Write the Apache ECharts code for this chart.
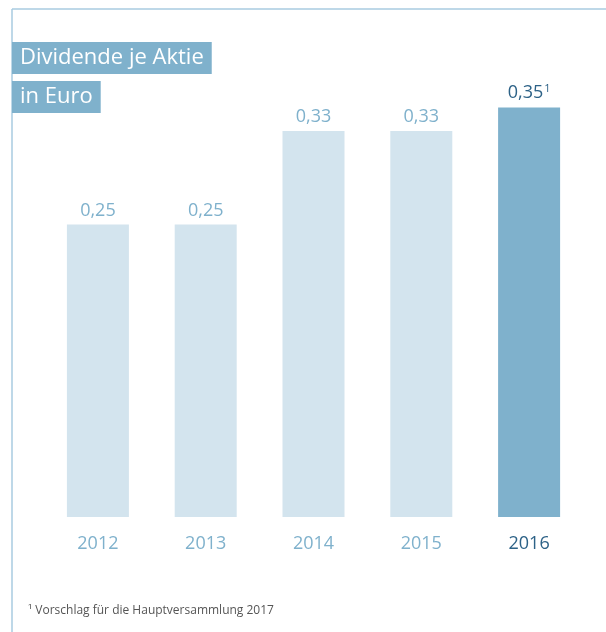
<!DOCTYPE html>
<html>
<head>
<meta charset="utf-8">
<style>
  html, body { margin: 0; padding: 0; background: #fff; }
  #main { width: 606px; height: 632px; }
</style>
<script src="https://cdn.jsdelivr.net/npm/echarts@6/dist/echarts.min.js"></script>
</head>
<body>
<div id="main"></div>
<script>
  const years = ['2012', '2013', '2014', '2015', '2016'];
  const dividends = [0.25, 0.25, 0.33, 0.33, 0.35];
  const footnoteMarks = ['', '', '', '', '1'];

  const light = '#d3e4ee';
  const mid = '#7fb1cc';
  const dark = '#2d6287';
  const font = '"Open Sans", "Noto Sans", sans-serif';

  const myChart = echarts.init(document.getElementById('main'));

  const option = {
    animation: false,
    title: [
      {
        text: 'Dividende je Aktie',
        left: 12, top: 42,
        backgroundColor: mid,
        padding: [3, 8, 4, 8],
        textStyle: { color: '#fff', fontSize: 22, fontWeight: 'normal', fontFamily: font, lineHeight: 25 }
      },
      {
        text: 'in Euro',
        left: 12, top: 81,
        backgroundColor: mid,
        padding: [3, 8, 4, 8],
        textStyle: { color: '#fff', fontSize: 22, fontWeight: 'normal', fontFamily: font, lineHeight: 25 }
      }
    ],
    graphic: [
      { type: 'line', shape: { x1: 12, y1: 9, x2: 606, y2: 9 }, style: { stroke: '#a9cbe0', lineWidth: 1.5 } },
      { type: 'line', shape: { x1: 12, y1: 9, x2: 12, y2: 632 }, style: { stroke: '#a9cbe0', lineWidth: 1.5 } },
      {
        type: 'text', left: 28, top: 605,
        style: { text: '¹ Vorschlag für die Hauptversammlung 2017', fill: '#555', fontSize: 12, fontFamily: font }
      }
    ],
    grid: { left: 44, right: 23, top: 49, bottom: 115 },
    xAxis: {
      type: 'category',
      data: years,
      axisLine: { show: false },
      axisTick: { show: false },
      axisLabel: {
        margin: 18,
        fontSize: 18,
        fontFamily: font,
        color: function (v, i) { return i === years.length - 1 ? dark : mid; }
      }
    },
    yAxis: {
      type: 'value',
      min: 0, max: 0.4,
      show: false
    },
    series: [
      {
        type: 'bar',
        barWidth: 62,
        data: dividends.map(function (v, i) {
          const last = i === dividends.length - 1;
          return {
            value: v,
            itemStyle: { color: last ? mid : light },
            label: { color: last ? dark : mid }
          };
        }),
        label: {
          show: true,
          position: 'top',
          distance: 5,
          fontSize: 18,
          fontFamily: font,
          formatter: function (p) {
            const s = p.value.toFixed(2).replace('.', ',');
            const m = footnoteMarks[p.dataIndex];
            return m ? s + '{sup|' + m + '}' : s;
          },
          rich: {
            sup: { fontSize: 11, verticalAlign: 'top', padding: [0, 0, 8, 1], color: dark, fontFamily: font }
          }
        }
      }
    ]
  };

  myChart.setOption(option);
</script>
</body>
</html>
